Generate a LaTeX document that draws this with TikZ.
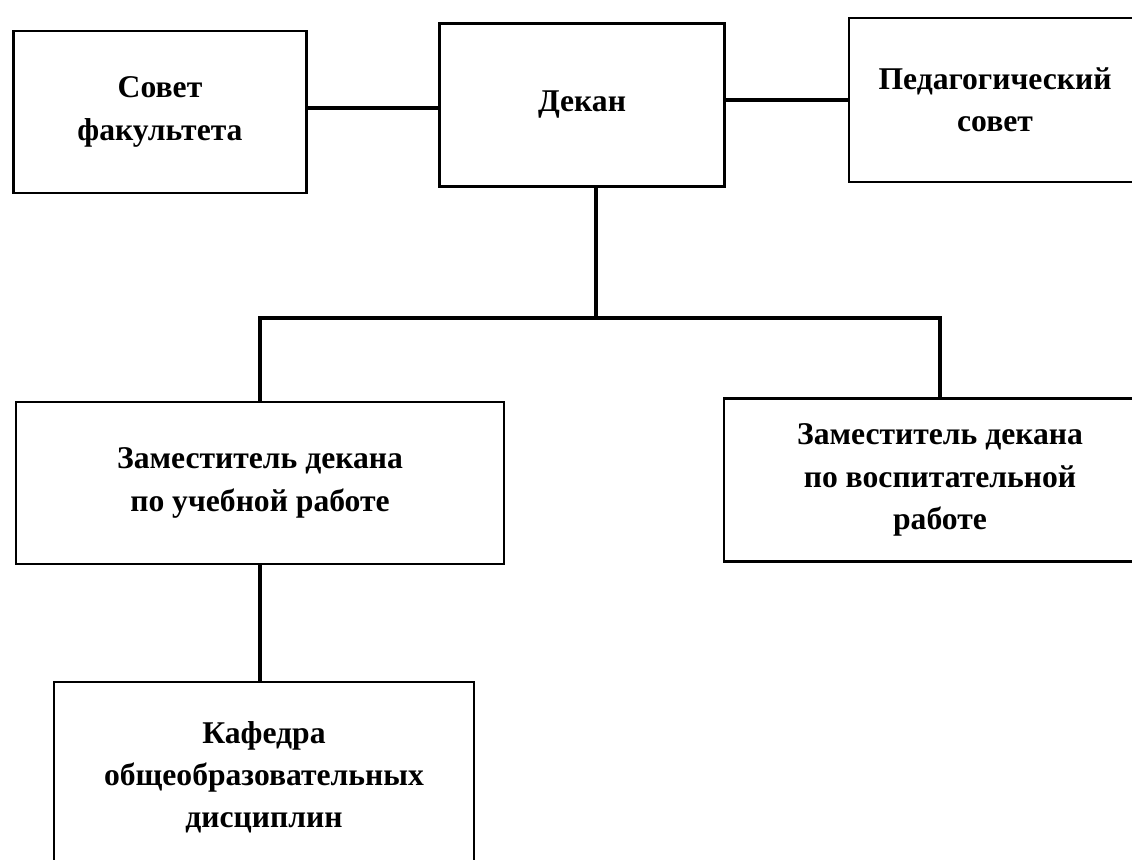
\documentclass[tikz,border=0pt]{standalone}
\usepackage{fontspec}
\setmainfont{Liberation Serif}
\usepackage{tikz}
\usetikzlibrary{positioning, calc}
\tikzstyle{unitBox}=[draw,line width=2.2pt,rectangle,align=center,inner sep=0pt,font=\bfseries\fontsize{27}{36}\selectfont]
\tikzstyle{link}   =[line width=2.6pt]

\begin{document}
\begin{tikzpicture}[x=0.03cm,y=-0.03cm]
      \clip (0,0) rectangle (1132,859);
      \fill[white] (0,0) rectangle (1132,859);
      % top row
      \node [unitBox,minimum width=293*0.03cm,minimum height=162*0.03cm] (sovet) at (160,112) {Совет\\факультета};
      \node [unitBox,minimum width=285*0.03cm,minimum height=163*0.03cm] (dekan) at (582,105) {Декан};
      \node [unitBox,minimum width=292*0.03cm,minimum height=164*0.03cm] (pedsovet) at (995,100) {Педагогический\\совет};
      % deputies
      \node [unitBox,minimum width=488*0.03cm,minimum height=162*0.03cm] (zamUch) at (260,483) {Заместитель декана\\по учебной работе};
      \node [unitBox,minimum width=432*0.03cm,minimum height=163*0.03cm] (zamVosp) at (940,480) {Заместитель декана\\по воспитательной\\работе};
      % department
      \node [unitBox,minimum width=420*0.03cm,minimum height=190*0.03cm] (kafedra) at (264,777) {Кафедра\\общеобразовательных\\дисциплин};
      \coordinate (bus) at (596,318);
      \coordinate (sovetOut) at ($(sovet.east)+(0,-4)$);
      % connectors
      \draw [link] (sovetOut) -- (sovetOut -| dekan.west);
      \draw [link] (pedsovet.west) -- (pedsovet.west -| dekan.east);
      \draw [link] (dekan.south -| bus) -- (bus);
      \draw [link] (zamUch.north) |- (bus) -| (zamVosp.north);
      \draw [link] (zamUch.south) -- (zamUch.south |- kafedra.north);
    \end{tikzpicture}
\end{document}
